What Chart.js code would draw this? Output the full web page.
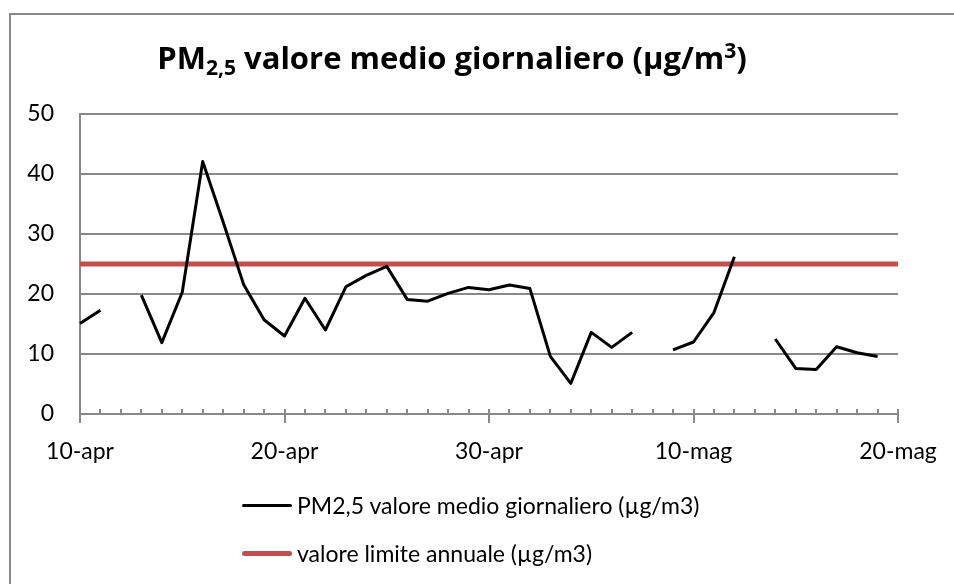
<!DOCTYPE html>
<html><head><meta charset="utf-8">
<script src="https://cdn.jsdelivr.net/npm/chart.js@4.4.0/dist/chart.umd.min.js"></script>
<style>
html,body{margin:0;padding:0;background:#fff;overflow:hidden;}
#wrap{position:relative;width:954px;height:584px;overflow:hidden;background:#fff;}
#fl{position:absolute;left:9px;top:13px;width:2px;height:600px;background:#898989;}
#ft{position:absolute;left:9px;top:13px;width:945px;height:2px;background:#898989;}
canvas{position:absolute;left:0;top:0;}
#title{position:absolute;top:36px;left:0;width:904px;text-align:center;font-family:'Open Sans';font-weight:bold;font-size:31px;line-height:42px;color:#000;white-space:nowrap;}
#title sub{font-size:0.68em;vertical-align:-0.28em;line-height:0;}
#title sup{font-size:0.68em;vertical-align:0.5em;line-height:0;}
#legend{position:absolute;left:242px;top:481px;font-family:Lato;font-size:23px;color:#000;}
.li{display:flex;align-items:center;height:48px;white-space:nowrap;}
.sw{width:50px;margin-right:5px;}
</style></head>
<body>
<div id="wrap">
<div id="fl"></div><div id="ft"></div>
<canvas id="c" width="954" height="584"></canvas>
<div id="title">PM<sub>2,5</sub> valore medio giornaliero (µg/m<sup>3</sup>)</div>
<div id="legend"></div>
</div>
<script>
const categories = ['10-apr','11-apr','12-apr','13-apr','14-apr','15-apr','16-apr','17-apr','18-apr','19-apr',
  '20-apr','21-apr','22-apr','23-apr','24-apr','25-apr','26-apr','27-apr','28-apr','29-apr',
  '30-apr','1-mag','2-mag','3-mag','4-mag','5-mag','6-mag','7-mag','8-mag','9-mag',
  '10-mag','11-mag','12-mag','13-mag','14-mag','15-mag','16-mag','17-mag','18-mag','19-mag','20-mag'];
const pm25Daily = [15.1,17.3,null,19.8,11.9,20.3,42.1,32.0,21.6,15.7,
  13.0,19.3,14.0,21.2,23.1,24.6,19.1,18.8,20.1,21.1,
  20.7,21.5,20.9,9.6,5.1,13.6,11.1,13.6,null,10.7,
  12.0,16.9,26.2,null,12.5,7.6,7.4,11.2,10.2,9.6,null];
const annualLimit = [25,25,25,25,25,25,25,25,25,25,
  25,25,25,25,25,25,25,25,25,25,
  25,25,25,25,25,25,25,25,25,25,
  25,25,25,25,25,25,25,25,25,25,25];
const seriesNames = ['PM2,5 valore medio giornaliero (µg/m3)','valore limite annuale (µg/m3)'];
const yTicks = [0,10,20,30,40,50];
const xLabelEvery = 10;

const gridColor = '#898989';
const tickFont = {family:'Lato', size:23};

const tickMarks = {
  id:'tickMarks',
  beforeDatasetsDraw(chart){
    const {ctx, chartArea, scales:{x}} = chart;
    ctx.save();
    ctx.strokeStyle = gridColor; ctx.lineWidth = 2;
    for (let i=0;i<categories.length;i++){
      const px = Math.round(x.getPixelForValue(i));
      const major = i % xLabelEvery === 0;
      ctx.beginPath();
      ctx.moveTo(px, chartArea.bottom - 5);
      ctx.lineTo(px, chartArea.bottom + (major ? 9 : 0));
      ctx.stroke();
    }
    ctx.restore();
  }
};

const chart = new Chart(document.getElementById('c'), {
  type:'line',
  data:{
    labels: categories,
    datasets:[
      {label:seriesNames[0], data:pm25Daily, borderColor:'#000000', backgroundColor:'#000000', borderWidth:3, pointRadius:0, spanGaps:false, tension:0, borderJoinStyle:'round'},
      {label:seriesNames[1], data:annualLimit, borderColor:'#C0504D', backgroundColor:'#C0504D', borderWidth:5, pointRadius:0, tension:0}
    ]
  },
  options:{
    responsive:false, animation:false, events:[],
    layout:{padding:{top:114, right:56, bottom:110, left:0}},
    plugins:{legend:{display:false}, tooltip:{enabled:false}, title:{display:false}},
    scales:{
      x:{
        type:'category', offset:false,
        grid:{display:false, drawTicks:false}, border:{display:false},
        ticks:{autoSkip:false, maxRotation:0, minRotation:0, padding:4, font:{family:'Lato', size:23, lineHeight:2.9}, color:'#000',
          callback:(v,i)=> i % xLabelEvery === 0 ? categories[i] : ''},
        afterFit(s){ s.height = 60; }
      },
      y:{
        min:0, max:50,
        afterBuildTicks(s){ s.ticks = yTicks.map(v=>({value:v})); },
        ticks:{padding:26, font:tickFont, color:'#000'},
        grid:{color:gridColor, lineWidth:2, drawTicks:false},
        border:{display:true, color:gridColor, width:2},
        afterFit(s){ s.width = 80; }
      }
    }
  },
  plugins:[tickMarks]
});

const leg = document.getElementById('legend');
chart.data.datasets.forEach(ds=>{
  const row = document.createElement('div'); row.className='li';
  const sw = document.createElement('div'); sw.className='sw';
  sw.style.height = ds.borderWidth+'px'; sw.style.background = ds.borderColor;
  sw.style.borderRadius = (ds.borderWidth/2)+'px';
  const t = document.createElement('span'); t.textContent = ds.label;
  row.appendChild(sw); row.appendChild(t); leg.appendChild(row);
});
</script>
</body></html>
